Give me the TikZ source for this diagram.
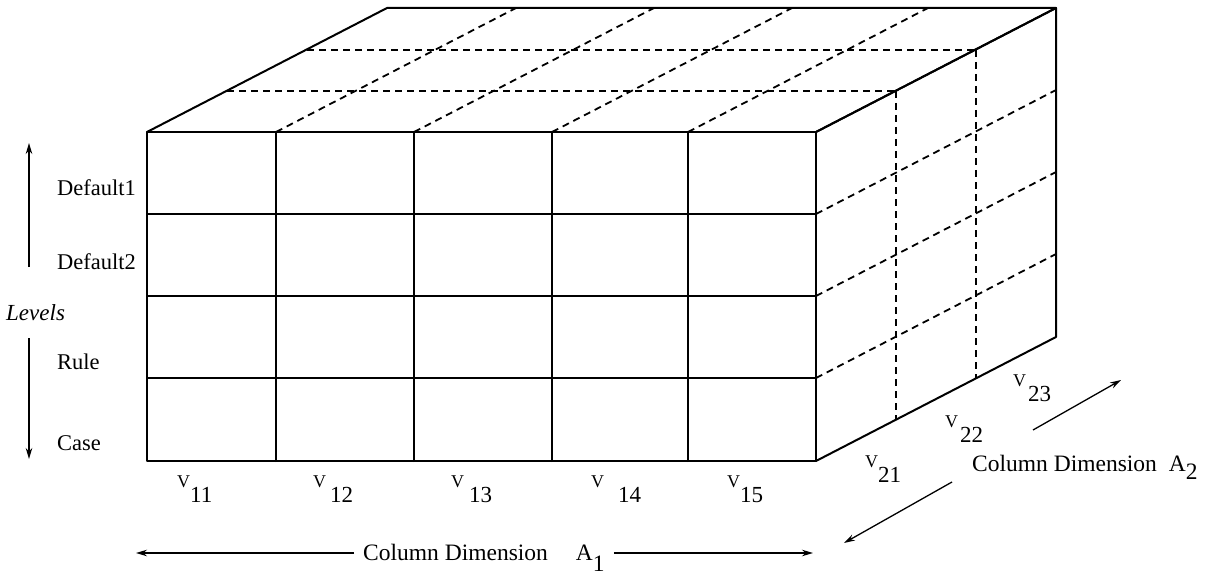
\documentclass[tikz,border=0pt]{standalone}
\usepackage{fontspec}
\setmainfont{Liberation Serif}
\usetikzlibrary{arrows.meta}
\newcommand{\vsub}[2]{{\fontsize{18}{18}\selectfont V}\kern#1\raisebox{-15pt}{#2}}
\begin{document}
\begin{tikzpicture}[x=1pt,y=-1pt,
  edge/.style={line width=2pt, line cap=round, line join=round},
  hid/.style={line width=1.8pt, dash pattern=on 7pt off 5pt},
  arr/.style={line width=1.3pt, -{Stealth[length=11pt,width=6.5pt]}},
  lab/.style={font=\fontsize{22.5}{24}\selectfont, inner sep=0pt, anchor=base west},
  vlab/.style={font=\fontsize{23}{24}\selectfont, inner sep=0pt, anchor=base west},
  dimlab/.style={font=\fontsize{23.5}{24}\selectfont, inner sep=0pt}]
\useasboundingbox (0,0) rectangle (1205,575);
\fill[white] (0,0) rectangle (1205,575);

% ---- hidden (dashed) lines on top face ----
\foreach \x in {276,414,552,688}
  \draw[hid] (\x,132) -- ({\x+240},8);
\draw[hid] (227,91) -- (896,91);
\draw[hid] (307,50) -- (976,50);
% ---- hidden lines on right face ----
\foreach \y in {214,296,378}
  \draw[hid] (816,\y) -- (1056,{\y-124});
\draw[hid] (896,91) -- (896,420);
\draw[hid] (976,50) -- (976,379);

% ---- solid outline ----
\draw[edge] (147,132) -- (387,8) -- (1056,8) -- (816,132);
\draw[edge] (816,132) -- (1056,8) -- (1056,337) -- (816,461);
\draw[edge] (147,132) rectangle (816,461);
\foreach \x in {276,414,552,688}
  \draw[edge] (\x,132) -- (\x,461);
\foreach \y in {214,296,378}
  \draw[edge] (147,\y) -- (816,\y);

% ---- level labels ----
\node[lab] (d1) at (57,195) {Default1};
\node[lab] (d2) at (57,269) {Default2};
\node[lab, font=\fontsize{23}{24}\selectfont\itshape] (lev) at (6,320) {Levels};
\node[lab] (rule) at (57,369) {Rule};
\node[lab] (case) at (57,450) {Case};
\coordinate (upS) at (29,267);
\coordinate (upE) at (29,143);
\coordinate (dnS) at (29,338);
\coordinate (dnE) at (29,459);
\draw[arr] (upS) -- (upE);
\draw[arr] (dnS) -- (dnE);

% ---- column labels A1 ----
\node[vlab] (v11) at (177,487) {\vsub{0pt}{11}};
\node[vlab] (v12) at (313,487) {\vsub{4pt}{12}};
\node[vlab] (v13) at (451,487) {\vsub{5pt}{13}};
\node[vlab] (v14) at (591,487) {\vsub{14pt}{14}};
\node[vlab] (v15) at (727,487) {\vsub{0pt}{15}};

\node[dimlab, anchor=base west, inner xsep=9pt] (a1) at (354,560)
  {Column Dimension\kern 28pt A\raisebox{-11pt}{1}};
\coordinate (a1l) at (136,553);
\coordinate (a1r) at (813,553);
\draw[arr] (a1.west |- a1l) -- (a1l);
\draw[arr] (a1.east |- a1r) -- (a1r);

% ---- column labels A2 ----
\node[vlab] (v21) at (865,467) {\vsub{0pt}{21}};
\node[vlab] (v22) at (945,427) {\vsub{2pt}{22}};
\node[vlab] (v23) at (1013,386) {\vsub{2pt}{23}};

\node[dimlab, anchor=base west] (a2) at (972,471)
  {Column Dimension\kern 12pt A\raisebox{-8pt}{2}};
\coordinate (a2uS) at (1033,430);
\coordinate (a2uE) at (1121,380);
\coordinate (a2dS) at (952,482);
\coordinate (a2dE) at (844,543);
\draw[arr] (a2uS) -- (a2uE);
\draw[arr] (a2dS) -- (a2dE);
\end{tikzpicture}
\end{document}
